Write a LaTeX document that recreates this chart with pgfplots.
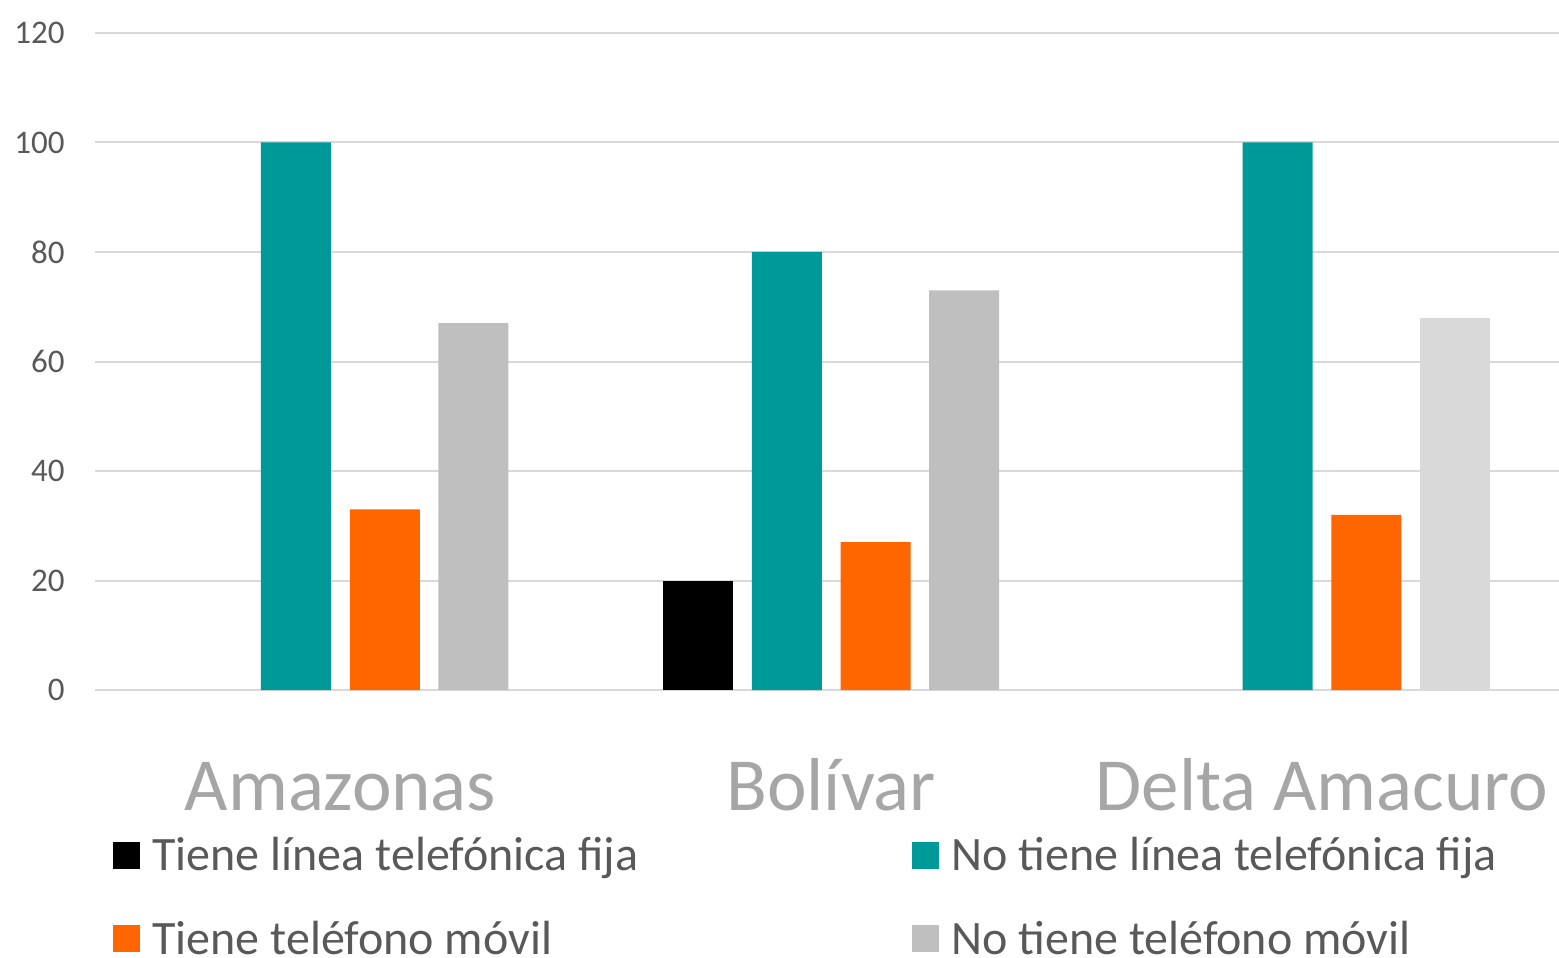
\documentclass[border=0pt]{standalone}
\usepackage{fontspec}
\setmainfont{Carlito}
\usepackage{pgfplots}
\pgfplotsset{compat=1.18}
\definecolor{cteal}{HTML}{009999}
\definecolor{corange}{HTML}{FF6600}
\definecolor{cgrey}{HTML}{BFBFBF}
\definecolor{clgrey}{HTML}{D9D9D9}
\definecolor{cgrid}{HTML}{D9D9D9}
\definecolor{ctext}{HTML}{595959}
\definecolor{ccat}{HTML}{A6A6A6}
\begin{document}
\begin{tikzpicture}
\useasboundingbox (-47.5pt,-134pt) rectangle (732pt,345pt);
\begin{axis}[
  scale only axis,
  width=732pt, height=328.5pt,
  xmin=-0.5, xmax=2.483,
  ymin=0, ymax=120,
  ytick={0,20,...,120},
  xtick={0,1,2},
  xticklabels={Amazonas,Bolívar,Delta Amacuro},
  ymajorgrids,
  grid style={cgrid, line width=1pt},
  axis line style={draw=none},
  major tick length=0pt,
  /pgf/number format/assume math mode=true,
  yticklabel style={font=\fontsize{16.5}{18}\selectfont, text=ctext, anchor=east, inner sep=0pt, xshift=-15pt},
  xticklabel style={font=\fontsize{37.5}{42}\selectfont, text=ccat, anchor=base, inner sep=0pt, yshift=-60pt},
  ybar, bar width=35pt,
  legend columns=2,
  legend cell align=left,
  legend style={draw=none, fill=none, at={(axis description cs:0.0123,-0.2176)}, anchor=north west,
    font=\fontsize{24}{27}\selectfont, text=ctext,
    /tikz/every even column/.append style={column sep=135pt},
    row sep=19.5pt, inner sep=0pt},
  legend image code/.code={\fill[#1] (0pt,-6.75pt) rectangle (13.5pt,6.75pt);},
]
\addplot[fill=black, draw=none, bar shift=-66.5pt] coordinates {(1,20)};
\addlegendentry{\hspace{4pt}Tiene línea telefónica fija}
\addplot[fill=cteal, draw=none, bar shift=-22.2pt] coordinates {(0,100) (1,80) (2,100)};
\addlegendentry{\hspace{4pt}No tiene línea telefónica fija}
\addplot[fill=corange, draw=none, bar shift=22.2pt] coordinates {(0,33) (1,27) (2,32)};
\addlegendentry{\hspace{4pt}Tiene teléfono móvil}
\addplot[fill=cgrey, draw=none, bar shift=66.5pt] coordinates {(0,67) (1,73)};
\addlegendentry{\hspace{4pt}No tiene teléfono móvil}
\addplot[fill=clgrey, draw=none, bar shift=66.5pt, forget plot] coordinates {(2,68)};
\end{axis}
\end{tikzpicture}
\end{document}
